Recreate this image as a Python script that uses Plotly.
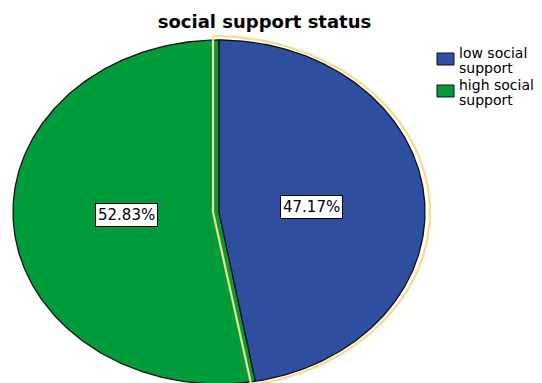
import numpy as np
import plotly.graph_objects as go

# ---- data ----
categories = ["low social support", "high social support"]
percentages = [47.17, 52.83]
legend_lines = [["low social", "support"], ["high social", "support"]]
colors = ["#2e4e9f", "#009b3a"]
title_text = "social support status"

W, H = 542, 383
# pixel geometry of the (stretched) pie
CX, CY, RX, RY = 219, 212, 206, 172

fig = go.Figure()


def wedge(a0, a1, cx=0.0, cy=0.0, rx=1.0, ry=1.0, n=240):
    t = np.linspace(np.radians(a0), np.radians(a1), n)
    xs = np.concatenate([[cx], cx + rx * np.cos(t), [cx]])
    ys = np.concatenate([[cy], cy + ry * np.sin(t), [cy]])
    return xs, ys


# angles: start at 12 o'clock, clockwise
total = sum(percentages)
starts, ends = [], []
a = 90.0
for p in percentages:
    starts.append(a)
    a = a - 360.0 * p / total
    ends.append(a)

# green (second) slice first
xs, ys = wedge(starts[1], ends[1])
fig.add_trace(go.Scatter(x=xs, y=ys, fill="toself", fillcolor=colors[1], mode="lines",
                         line=dict(color="#111111", width=1.3), hoverinfo="skip",
                         showlegend=False, name=categories[1]))

# highlight outline around blue slice
xs, ys = wedge(starts[0], ends[0], cx=-6 / RX, cy=0.0, rx=217 / RX, ry=176 / RY)
fig.add_trace(go.Scatter(x=xs, y=ys, mode="lines", line=dict(color="#f6dc8c", width=2.2),
                         hoverinfo="skip", showlegend=False))

# blue slice
xs, ys = wedge(starts[0], ends[0])
fig.add_trace(go.Scatter(x=xs, y=ys, fill="toself", fillcolor=colors[0], mode="lines",
                         line=dict(color="#111111", width=1.3), hoverinfo="skip",
                         showlegend=False, name=categories[0]))

# percentage labels
for s, e, p in zip(starts, ends, percentages):
    mid = np.radians((s + e) / 2)
    fig.add_annotation(x=0.45 * np.cos(mid), y=0.45 * np.sin(mid), xref="x", yref="y",
                       yshift=-2 if np.sin(mid) > 0 else 4,
                       text=f"{p:.2f}%", showarrow=False,
                       font=dict(family="DejaVu Sans", size=15, color="black"),
                       bgcolor="white", bordercolor="black", borderwidth=1, borderpad=2)

# legend (drawn manually to match reference layout)
sq_tops = [53, 85]
for i, (lines, col) in enumerate(zip(legend_lines, colors)):
    top = sq_tops[i]
    fig.add_shape(type="rect", xref="paper", yref="paper",
                  x0=437 / W, x1=454 / W, y0=1 - (top + 12) / H, y1=1 - top / H,
                  fillcolor=col, line=dict(color="#111111", width=1))
    base = top
    for j, ln in enumerate(lines):
        yc = base + j * 15
        fig.add_annotation(x=457 / W, y=1 - yc / H, xref="paper", yref="paper",
                           xanchor="left", yanchor="middle", text=ln, showarrow=False,
                           font=dict(family="DejaVu Sans", size=14, color="black"))

fig.update_layout(
    width=W, height=H,
    margin=dict(l=0, r=0, t=0, b=0),
    paper_bgcolor="white", plot_bgcolor="white",
    title=dict(text=title_text, x=264.5 / W, y=1 - 22 / H, xref="paper", yref="paper",
               xanchor="center", yanchor="middle",
               font=dict(family="DejaVu Sans", size=18, color="black", weight="bold")),
    xaxis=dict(range=[(0 - CX) / RX, (W - CX) / RX], visible=False, fixedrange=True),
    yaxis=dict(range=[(CY - H) / RY, CY / RY], visible=False, fixedrange=True),
    showlegend=False,
)

fig.write_html("out.html", config={"displayModeBar": False},
               post_script="document.body.style.margin='0';")
